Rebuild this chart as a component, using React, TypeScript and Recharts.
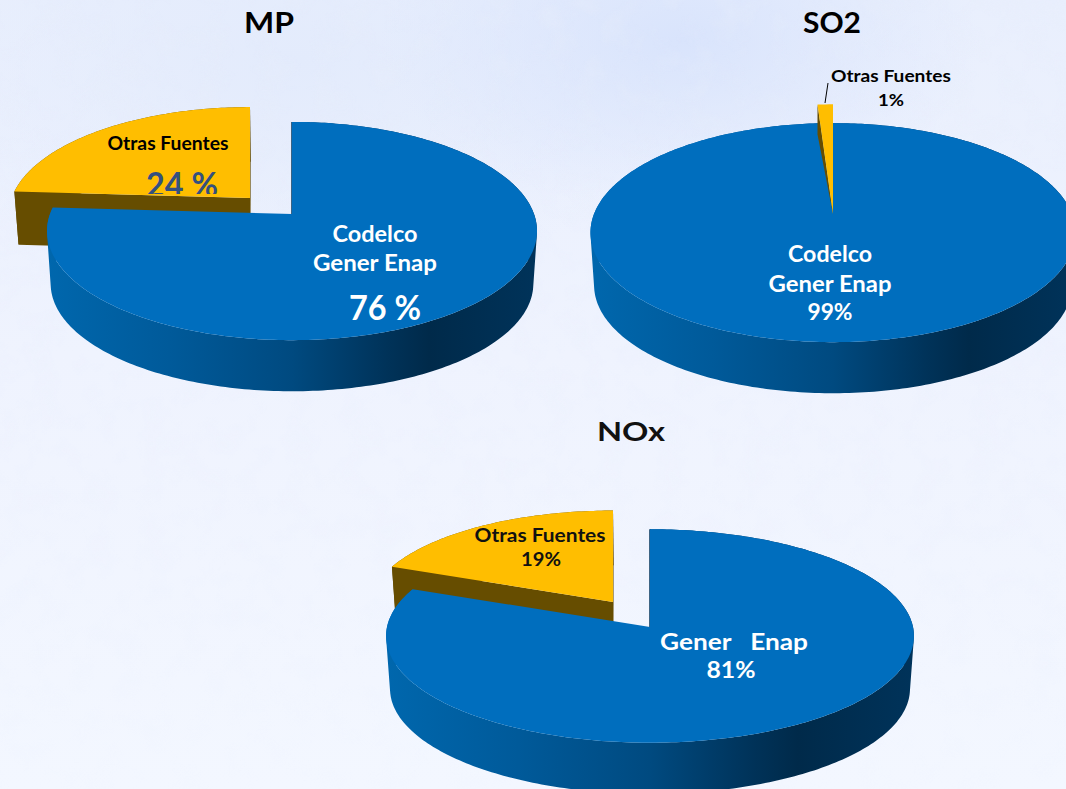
import { PieChart, Pie } from 'recharts';

const SOURCES_MP = ['Otras Fuentes', 'Codelco Gener Enap'];
const VALUES_MP = [24, 76];
const SOURCES_SO2 = ['Codelco Gener Enap', 'Otras Fuentes'];
const VALUES_SO2 = [99, 1];
const SOURCES_NOX = ['Otras Fuentes', 'Gener Enap'];
const VALUES_NOX = [19, 81];

const BLUE = '#006EBE';
const YELLOW = '#FFBE00';
const BROWN = '#664D00';
const FONT = 'Lato, sans-serif';

const toRows = (names: string[], values: number[], colors: string[]) =>
  names.map((name, i) => ({ name, value: values[i], fill: colors[i] }));

// when the small slice is drawn first, the pie has to start where the big one ends
const startAfter = (share: number) => 90 - share * 3.6;

type Pt = { x: number; y: number };

type View = {
  squash: number; // ellipse height / width
  persp: number; // far side of the disc shrinks by this
  depth: number;
  shift: number[][]; // pulled-out slices, in px
  reach: number[];
  sliver?: number; // index of a slice that only gets a thin side face
};

const makeSlice = (view: View) => (props: any) => {
  const { cx, cy, outerRadius, startAngle, endAngle, fill, index } = props;
  const rad = Math.PI / 180;
  const [dx, dy] = view.shift[index] ?? [0, 0];
  const reach = view.reach[index] ?? 1;

  const project = (a: number, f: number): Pt => {
    const u = f * Math.cos(a * rad);
    const v = f * Math.sin(a * rad);
    const w = 1 + view.persp * v;
    return {
      x: cx + dx + (outerRadius * u) / w,
      y: cy + dy - (outerRadius * view.squash * v) / w,
    };
  };
  const lower = (p: Pt): Pt => ({
    x: cx + (p.x - cx) * 0.985,
    y: cy + (p.y - cy) * 0.985 + view.depth,
  });
  const toPath = (pts: Pt[]) =>
    'M' + pts.map((p) => `${p.x.toFixed(2)},${p.y.toFixed(2)}`).join('L') + 'Z';
  // all quads wound the same way, otherwise front and back cancel out where they overlap
  const quad = (a: Pt, b: Pt) => {
    const pts = [a, b, lower(b), lower(a)];
    const area = pts.reduce((sum, p, i) => {
      const n = pts[(i + 1) % 4];
      return sum + p.x * n.y - n.x * p.y;
    }, 0);
    return toPath(area < 0 ? pts.reverse() : pts);
  };

  const steps = Math.max(2, Math.ceil(Math.abs(endAngle - startAngle)));
  const rim = Array.from({ length: steps + 1 }, (_, i) =>
    project(startAngle + ((endAngle - startAngle) * i) / steps, reach),
  );
  const apex = project(0, 0);
  const gradId = `wall-${Math.round(cx)}`;
  const first = rim[0];
  const last = rim[rim.length - 1];

  if (view.sliver === index) {
    return (
      <g>
        <path
          d={toPath([first, { x: first.x, y: first.y + 30 }, apex])}
          fill={BROWN}
        />
        <path d={toPath([apex, ...rim])} fill={fill} />
      </g>
    );
  }

  const wall = rim
    .slice(1)
    .map((p, i) => quad(rim[i], p))
    .join('');

  if (fill === BLUE) {
    return (
      <g>
        <defs>
          <linearGradient id={gradId} x1="0" x2="1" y1="0" y2="0">
            <stop offset="0" stopColor="#0067AD" />
            <stop offset="0.25" stopColor="#005A9A" />
            <stop offset="0.5" stopColor="#004A80" />
            <stop offset="0.7" stopColor="#003258" />
            <stop offset="0.78" stopColor="#002A4A" />
            <stop offset="1" stopColor="#00335A" />
          </linearGradient>
        </defs>
        <path d={wall} fill={`url(#${gradId})`} />
        <path
          d={`M${apex.x},${apex.y}L${first.x},${first.y}`}
          stroke="#00345C"
          strokeWidth={1.5}
        />
        <path d={toPath([apex, ...rim])} fill={fill} />
      </g>
    );
  }

  return (
    <g>
      <path d={wall} fill={BROWN} />
      <path d={quad(apex, last)} fill={BROWN} />
      <path d={quad(apex, first)} fill={BROWN} />
      <path d={toPath([apex, ...rim])} fill={fill} />
    </g>
  );
};

const sliceMP = makeSlice({
  squash: 0.44,
  persp: 0.156,
  depth: 53,
  shift: [[-42, -16], [0, 0]],
  reach: [0.985, 1],
});
const sliceSO2 = makeSlice({
  squash: 0.445,
  persp: 0.17,
  depth: 53,
  shift: [[0, 0], [0, 0]],
  reach: [1, 1.25],
  sliver: 1,
});
const sliceNOX = makeSlice({
  squash: 0.403,
  persp: 0.084,
  depth: 53,
  shift: [[-37, -25], [0, 0]],
  reach: [0.93, 1],
});

const Tx = ({ x, y, w, size, color = '#fff', children }: any) => (
  <text
    x={x}
    y={y}
    textAnchor="middle"
    fontFamily={FONT}
    fontWeight={700}
    fontSize={size}
    fill={color}
    textLength={w}
    lengthAdjust="spacingAndGlyphs"
    style={{ whiteSpace: 'pre' }}
  >
    {children}
  </text>
);

const App = () => {
  return (
    <div
      style={{
        position: 'fixed',
        left: 0,
        top: 0,
        width: 1066,
        height: 789,
        overflow: 'hidden',
        background:
          'radial-gradient(ellipse 300px 170px at 680px 40px, #d9e4fc 0%, rgba(217,228,252,0) 100%),' +
          'radial-gradient(ellipse 420px 220px at 300px 60px, #e3ebfc 0%, rgba(227,235,252,0) 100%),' +
          'linear-gradient(180deg, #e9effd 0%, #eff3fe 45%, #f3f7ff 100%)',
      }}
    >
      <svg width={1066} height={789} style={{ position: 'absolute', left: 0, top: 0 }}>
        <defs>
          <filter id="speckle" x="0" y="0" width="100%" height="100%">
            <feTurbulence type="fractalNoise" baseFrequency="0.035" numOctaves={3} seed={4} />
            <feColorMatrix values="0 0 0 0 0.8  0 0 0 0 0.85  0 0 0 0 0.97  0 0 0 1.6 -0.7" />
          </filter>
          <linearGradient id="speckle-fade" x1="0" x2="0" y1="0" y2="1">
            <stop offset="0" stopColor="#fff" stopOpacity={0.5} />
            <stop offset="0.4" stopColor="#fff" stopOpacity={0.25} />
            <stop offset="1" stopColor="#fff" stopOpacity={0.06} />
          </linearGradient>
          <mask id="speckle-mask">
            <rect width={1066} height={789} fill="url(#speckle-fade)" />
          </mask>
        </defs>
        <g mask="url(#speckle-mask)">
          <rect width={1066} height={789} filter="url(#speckle)" />
        </g>
      </svg>
      <div style={{ position: 'absolute', left: 0, top: 0 }}>
        <PieChart width={1066} height={789} margin={{ top: 0, right: 0, bottom: 0, left: 0 }}>
          <Pie
            data={toRows(SOURCES_MP, VALUES_MP, [YELLOW, BLUE])}
            dataKey="value"
            nameKey="name"
            cx={292}
            cy={214}
            outerRadius={242}
            startAngle={startAfter(VALUES_MP[1])}
            endAngle={startAfter(VALUES_MP[1]) - 360}
            stroke="none"
            shape={sliceMP}
            isAnimationActive={false}
          />
          <Pie
            data={toRows(SOURCES_SO2, VALUES_SO2, [BLUE, YELLOW])}
            dataKey="value"
            nameKey="name"
            cx={833}
            cy={214}
            outerRadius={239}
            startAngle={90}
            endAngle={-270}
            stroke="none"
            shape={sliceSO2}
            isAnimationActive={false}
          />
          <Pie
            data={toRows(SOURCES_NOX, VALUES_NOX, [YELLOW, BLUE])}
            dataKey="value"
            nameKey="name"
            cx={650}
            cy={627}
            outerRadius={263}
            startAngle={startAfter(VALUES_NOX[1])}
            endAngle={startAfter(VALUES_NOX[1]) - 360}
            stroke="none"
            shape={sliceNOX}
            isAnimationActive={false}
          />
        </PieChart>
      </div>
      {/* recharts puts its pies above svg children, so the texts get their own layer */}
      <svg width={1066} height={789} style={{ position: 'absolute', left: 0, top: 0 }}>
        <clipPath id="clip-24">
          <rect x={100} y={150} width={160} height={44} />
        </clipPath>

        <Tx x={269} y={33} w={50} size={28} color="#000">MP</Tx>
        <Tx x={832} y={33} w={58} size={28} color="#000">SO2</Tx>
        <Tx x={631} y={441} w={68} size={27} color="#111">NOx</Tx>

        <Tx x={168} y={150} w={121} size={18} color="#000">Otras Fuentes</Tx>
        <g clipPath="url(#clip-24)">
          <Tx x={182} y={197} w={72} size={34} color="#34507F">24 %</Tx>
        </g>
        <Tx x={375} y={242} w={85} size={22}>Codelco</Tx>
        <Tx x={375} y={271} w={124} size={22}>Gener Enap</Tx>
        <Tx x={385} y={320} w={72} size={34}>76 %</Tx>

        <line x1={828} y1={83} x2={825} y2={103} stroke="#000" strokeWidth={1} />
        <Tx x={891} y={82} w={120} size={17} color="#000">Otras Fuentes</Tx>
        <Tx x={891} y={106} w={26} size={17} color="#000">1%</Tx>
        <Tx x={830} y={262} w={84} size={22}>Codelco</Tx>
        <Tx x={830} y={292} w={123} size={22}>Gener Enap</Tx>
        <Tx x={830} y={320} w={45} size={22}>99%</Tx>

        <Tx x={540} y={542} w={131} size={18} color="#111">Otras Fuentes</Tx>
        <Tx x={541} y={566} w={40} size={18} color="#111">19%</Tx>
        <Tx x={734} y={650} w={148} size={22}>{'Gener   Enap'}</Tx>
        <Tx x={731} y={678} w={49} size={22}>81%</Tx>
      </svg>
    </div>
  );
};

export default App;
